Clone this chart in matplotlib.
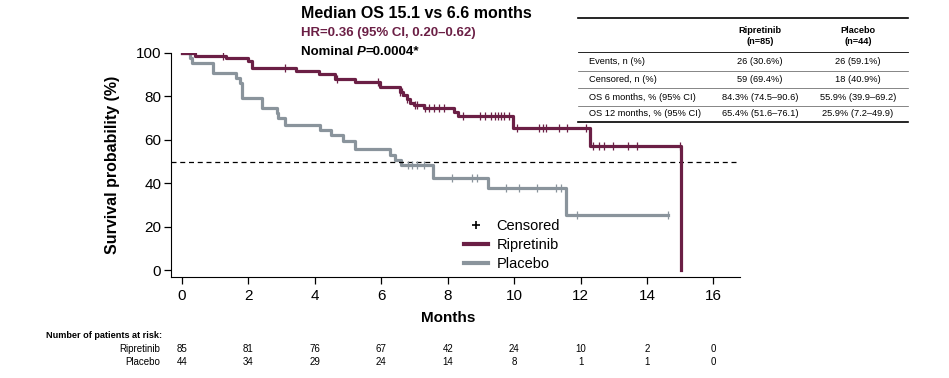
import numpy as np
import matplotlib
matplotlib.use('Agg')
import matplotlib.pyplot as plt
from matplotlib.lines import Line2D
import matplotlib.transforms as mtransforms

plt.rcParams['font.family'] = ['Liberation Sans', 'DejaVu Sans']

W, H = 949, 378
PURPLE = '#6b1f45'
GREY = '#8a949c'

# Kaplan-Meier steps (months, survival %)
rip_t = [0, 0.39, 1.34, 1.98, 2.12, 3.43, 4.12, 4.62, 5.2, 5.95, 6.56, 6.65, 6.76, 6.86,
         7.0, 7.3, 8.2, 8.3, 9.96, 12.29, 15.03]
rip_s = [100, 98.8, 97.6, 96.4, 92.9, 91.6, 90.3, 88.0, 86.8, 84.3, 82.2, 80.6, 78.9, 77.2,
         76.0, 74.6, 72.9, 71.0, 65.4, 57.2, 0]
rip_cens = [1.24, 3.1, 4.66, 5.9, 6.56, 6.61, 6.78, 7.02, 7.07, 7.32, 7.45, 7.6, 7.75, 7.9,
            8.46, 8.96, 9.11, 9.31, 9.41, 9.51, 9.61, 9.71, 9.86, 10.1, 10.76, 10.86, 10.96,
            11.35, 11.6, 12.15, 12.37, 12.55, 12.72, 12.97, 13.42, 13.69, 14.98]
rip_end = 15.03

pla_t = [0, 0.24, 0.30, 0.94, 1.64, 1.74, 1.82, 2.4, 2.85, 2.9, 3.1, 4.15, 4.5, 4.85, 5.2,
         6.26, 6.4, 6.59, 7.57, 9.22, 11.55]
pla_s = [100, 97.7, 95.5, 90.9, 88.6, 86.3, 79.5, 74.9, 72.6, 70.3, 67.0, 64.7, 62.2, 59.5,
         55.9, 53.2, 50.6, 48.7, 42.5, 38.1, 25.4]
pla_cens = [6.8, 6.92, 7.08, 7.3, 8.12, 8.73, 8.89, 9.77, 10.15, 10.7, 11.25, 11.42, 11.89, 14.63]
pla_end = 14.63

risk_months = [0, 2, 4, 6, 8, 10, 12, 14, 16]
risk_rip = [85, 81, 76, 67, 42, 24, 10, 2, 0]
risk_pla = [44, 34, 29, 24, 14, 8, 1, 1, 0]

table_cols = ['Ripretinib\n(n=85)', 'Placebo\n(n=44)']
table_rows = ['Events, n (%)', 'Censored, n (%)', 'OS 6 months, % (95% CI)', 'OS 12 months, % (95% CI)']
table_rip = ['26 (30.6%)', '59 (69.4%)', '84.3% (74.5\u201390.6)', '65.4% (51.6\u201376.1)']
table_pla = ['26 (59.1%)', '18 (40.9%)', '55.9% (39.9\u201369.2)', '25.9% (7.2\u201349.9)']


def fx(x):
    return x / W


def fy(y):
    return 1 - y / H


def surv_at(times, surv, t):
    i = np.searchsorted(times, t, side='right') - 1
    return np.array(surv)[i]


fig = plt.figure(figsize=(W / 100, H / 100), dpi=100)
ax = fig.add_axes([fx(171), fy(277), fx(740) - fx(171), fy(53) - fy(277)])

# curves
ax.step(rip_t + [rip_end], rip_s + [rip_s[-1]], where='post', color=PURPLE, lw=2.3, zorder=3)
ax.step(pla_t + [pla_end], pla_s + [pla_s[-1]], where='post', color=GREY, lw=2.3, zorder=2)
ax.plot(rip_cens, surv_at(rip_t, rip_s, rip_cens), ls='none', marker='|', ms=6, mew=0.9,
        color=PURPLE, zorder=4)
ax.plot(pla_cens, surv_at(pla_t, pla_s, pla_cens), ls='none', marker='|', ms=6, mew=0.9,
        color=GREY, zorder=4)
ax.axhline(50, color='black', ls=(0, (4, 3)), lw=0.9)

ax.set_xlim(-0.33, 16.8)
ax.set_ylim(-3, 100)
ax.set_xticks(range(0, 17, 2))
ax.set_yticks(range(0, 101, 20))
ax.spines['top'].set_visible(False)
ax.spines['right'].set_visible(False)
ax.spines['left'].set_bounds(-3, 100)
ax.tick_params(labelsize=11, length=5, width=0.9)
ax.tick_params(axis='x', pad=4)
ax.tick_params(axis='y', pad=2)
ax.set_xlabel('Months', fontsize=11, fontweight='bold')
ax.xaxis.set_label_coords((448 - 171) / 569, (277 - 311) / 224)
ax.set_ylabel('Survival probability (%)', fontsize=11.5, fontweight='bold')
ax.yaxis.set_label_coords((120 - 171) / 569, 0.5)

handles = [Line2D([], [], ls='none', marker='+', color='black', ms=6, mew=1.2),
           Line2D([], [], color=PURPLE, lw=3),
           Line2D([], [], color=GREY, lw=3)]
leg = ax.legend(handles, ['Censored', 'Ripretinib', 'Placebo'], loc='upper left',
                bbox_to_anchor=(fx(457), fy(212)), bbox_transform=fig.transFigure,
                frameon=False, fontsize=10.5, handlelength=1.6, handletextpad=0.6,
                labelspacing=0.35, borderpad=0)

# headline text
fig.text(fx(301), fy(14), 'Median OS 15.1 vs 6.6 months', fontsize=11.5, fontweight='bold',
         va='center', ha='left')
fig.text(fx(301), fy(33), 'HR=0.36 (95% CI, 0.20\u20130.62)', fontsize=9.5, fontweight='bold',
         color=PURPLE, va='center', ha='left')
renderer = fig.canvas.get_renderer()
x0 = 301
for piece, style in [('Nominal ', 'normal'), ('P', 'italic'), ('=0.0004*', 'normal')]:
    t = fig.text(fx(x0), fy(52), piece, fontsize=9.5, fontweight='bold', style=style,
                 va='center', ha='left')
    x0 += t.get_window_extent(renderer).width

# summary table
tl, tr = 578, 908
fig.add_artist(Line2D([fx(tl), fx(tr)], [fy(18), fy(18)], color='black', lw=1.2))
fig.add_artist(Line2D([fx(tl), fx(tr)], [fy(52), fy(52)], color='black', lw=0.6))
for yy in [71, 88, 106]:
    fig.add_artist(Line2D([fx(tl), fx(tr)], [fy(yy), fy(yy)], color='#555555', lw=0.5))
fig.add_artist(Line2D([fx(tl), fx(tr)], [fy(122), fy(122)], color='black', lw=1.2))
for cx, head in zip([760, 858], table_cols):
    fig.text(fx(cx), fy(36), head, fontsize=6.6, fontweight='bold', ha='center', va='center',
             linespacing=1.3)
for ry, lab, a, b in zip([62, 80, 97, 114], table_rows, table_rip, table_pla):
    fig.text(fx(589), fy(ry), lab, fontsize=6.7, ha='left', va='center')
    fig.text(fx(760), fy(ry), a, fontsize=6.7, ha='center', va='center')
    fig.text(fx(858), fy(ry), b, fontsize=6.7, ha='center', va='center')

# number at risk
narrow = ['Liberation Sans Narrow', 'Liberation Sans', 'DejaVu Sans']
fig.text(fx(46), fy(335), 'Number of patients at risk:', fontsize=6.6, fontweight='bold',
         family=narrow, ha='left', va='center')
fig.text(fx(160), fy(349), 'Ripretinib', fontsize=7, family=narrow, ha='right', va='center')
fig.text(fx(160), fy(362), 'Placebo', fontsize=7, family=narrow, ha='right', va='center')
trans = mtransforms.blended_transform_factory(ax.transData, fig.transFigure)
for m, a, b in zip(risk_months, risk_rip, risk_pla):
    ax.text(m, fy(349), str(a), transform=trans, fontsize=7, family=narrow, ha='center',
            va='center', clip_on=False)
    ax.text(m, fy(362), str(b), transform=trans, fontsize=7, family=narrow, ha='center',
            va='center', clip_on=False)

fig.savefig('out.png', dpi=100)
